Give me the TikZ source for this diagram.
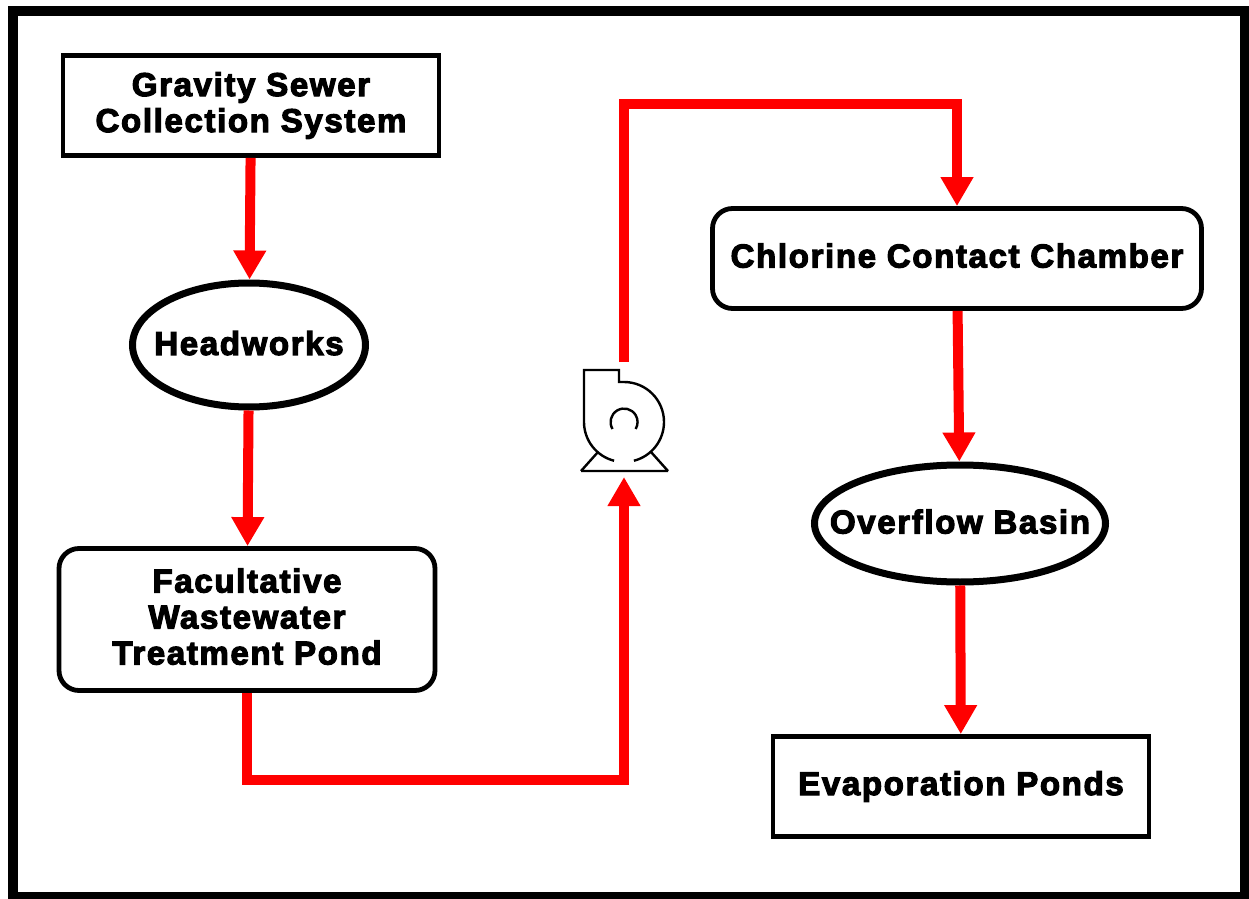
\documentclass[tikz,border=0pt]{standalone}
\usepackage{fontspec}
\setmainfont[LetterSpace=5,FakeBold=3.5]{Liberation Sans Bold}
\usepackage{tikz}
\usetikzlibrary{positioning,shapes.geometric,arrows.meta}
\tikzset{
  unitbox/.style={draw, line width=2.4pt, minimum width=188pt, minimum height=50pt, align=center, font=\fontsize{16.5}{18}\selectfont, inner sep=0pt},
  roundbox/.style={unitbox, rounded corners=10pt, text depth=3pt},
  basin/.style={unitbox, ellipse, line width=3.5pt, inner xsep=-18pt, inner ysep=-4pt, minimum height=58.5pt, text depth=2pt},
  flow/.style={draw=red, line width=5pt, -{Triangle[length=14.5pt,width=15.5pt]}},
  pumpline/.style={line width=1.2pt}
}
\begin{document}
\begin{tikzpicture}[x=.5pt, y=-.5pt]
  \useasboundingbox (0, 0) rectangle (1249, 899);
  \node (frame) [draw, line width=5.3pt, minimum width=616pt, minimum height=443pt, inner sep=0pt] at (629, 454) {};
  \node (gravity) [unitbox] at (251, 105.5) {Gravity Sewer\\Collection System};
  \node (headworks) [basin, minimum width=116.5pt, minimum height=62pt] at (249, 345) {Headworks};
  \node (pond) [roundbox, minimum height=71pt] at (247, 619.5) {Facultative\\Wastewater\\Treatment Pond};
  \node (chlorine) [roundbox, minimum width=244.5pt] at (957, 258.5) {Chlorine Contact Chamber};
  \node (overflow) [basin, minimum width=145.5pt] at (960, 523.5) {Overflow Basin};
  \node (evap) [unitbox] at (961, 786.5) {Evaporation Ponds};
  % pump symbol
  \coordinate (pumpout) at (624, 362);
  \coordinate (pumpin) at (624, 477);
  \draw [pumpline, line join=miter]
        (584, 422) -- (584, 370) -- (619, 370) -- (619, 382) -- (624, 382)
        arc [start angle=-90, end angle=75.6, radius=40]
        (584, 422) arc [start angle=-180, end angle=-255.6, radius=40];
  \draw [pumpline] (581, 471) -- (668, 471)
        (581, 471) -- (598, 452)
        (668, 471) -- (651, 452)
        (612.5, 429) arc [start angle=-211, end angle=31, radius=13.5];
  % flow lines
  \draw [flow] (gravity) -- (headworks);
  \draw [flow] (headworks) -- (pond);
  \draw [flow] (pond.south) -- (247, 780) -- (624, 780) -- (pumpin);
  \draw [flow] (pumpout) -- (624, 104) -- (957, 104) -- (chlorine);
  \draw [flow] (chlorine) -- (overflow);
  \draw [flow] (overflow) -- (evap);
\end{tikzpicture}
\end{document}
